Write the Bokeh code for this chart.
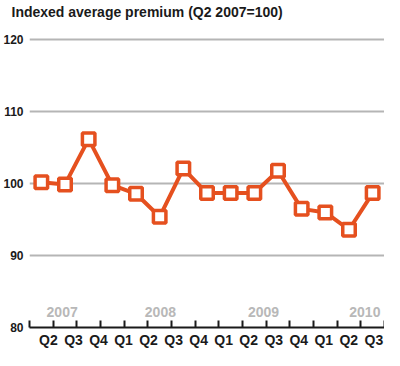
import numpy as np
from bokeh.plotting import figure
from bokeh.models import FixedTicker, LinearAxis, Range1d, ColumnDataSource
from bokeh.core.properties import value
from bokeh.embed import file_html
from bokeh.resources import INLINE

# ---- data ----
premium = [100.2, 99.9, 106.2, 99.8, 98.6, 95.4, 102.1, 98.7, 98.7, 98.7, 101.8, 96.5, 96.0, 93.6, 98.7]
quarter_labels = ["Q2", "Q3", "Q4", "Q1", "Q2", "Q3", "Q4", "Q1", "Q2", "Q3", "Q4", "Q1", "Q2", "Q3"]
years = ["2007", "2008", "2009", "2010"]
y_ticks = [80, 90, 100, 110, 120]

# ---- layout helpers ----
idx = list(range(len(premium)))
edges = [i - 0.5 for i in range(len(premium) + 1)]
label_pos = [float(v) for v in np.linspace(0.3, 14.05, len(quarter_labels))]
year_x = [0.88, 5.03, 9.39, 13.67]
year_y = [82.1] * len(years)

ORANGE = "#e5501f"
GRID = "#b5b5b5"
FONT = "Liberation Sans"

p = figure(width=384, height=350, output_backend="svg", toolbar_location=None,
           x_range=Range1d(-0.5, 14.5), y_range=Range1d(80, 122.7),
           min_border_left=27, min_border_right=0, min_border_top=4, min_border_bottom=0,
           x_axis_location=None, y_axis_location=None)
p.outline_line_color = None
p.background_fill_color = "white"

p.title.text = "Indexed average premium (Q2 2007=100)"
p.title.text_font = FONT
p.title.text_font_size = "14px"
p.title.text_font_style = "bold"
p.title.text_color = "#1a1a1a"
p.title.offset = -18
p.title.standoff = 2

# y axis (labels only)
yax = LinearAxis(ticker=FixedTicker(ticks=y_ticks))
yax.axis_line_color = None
yax.major_tick_line_color = None
yax.minor_tick_line_color = None
yax.major_tick_in = 0
yax.major_tick_out = 0
yax.minor_tick_in = 0
yax.minor_tick_out = 0
yax.axis_label_standoff = 0
yax.major_label_text_font = FONT
yax.major_label_text_font_size = "12px"
yax.major_label_text_font_style = "bold"
yax.major_label_text_color = "#1a1a1a"
yax.major_label_standoff = 6
p.add_layout(yax, "left")

# x axis: line, upward minor ticks at band edges, quarter labels at major ticks
xax = LinearAxis(ticker=FixedTicker(ticks=label_pos, minor_ticks=edges))
xax.axis_line_color = "#1a1a1a"
xax.axis_line_width = 2
xax.major_tick_line_color = None
xax.major_tick_in = 0
xax.major_tick_out = 0
xax.minor_tick_line_color = "#1a1a1a"
xax.minor_tick_line_width = 2
xax.minor_tick_in = 7
xax.minor_tick_out = 0
xax.axis_label_standoff = 0
xax.major_label_overrides = {v: t for v, t in zip(label_pos, quarter_labels)}
xax.major_label_text_font = FONT
xax.major_label_text_font_size = "14px"
xax.major_label_text_font_style = "bold"
xax.major_label_text_color = "#1a1a1a"
xax.major_label_standoff = 4
p.add_layout(xax, "below")

p.xgrid.visible = False
p.ygrid.ticker = FixedTicker(ticks=y_ticks[1:])
p.ygrid.grid_line_color = GRID
p.ygrid.grid_line_width = 2

src = ColumnDataSource(dict(x=idx, y=premium))
p.line("x", "y", source=src, line_color=ORANGE, line_width=4)
p.scatter("x", "y", source=src, marker="square", size=12.5, line_color=ORANGE,
          line_width=3.5, fill_color="white")

ysrc = ColumnDataSource(dict(x=year_x, y=year_y, t=years))
p.text("x", "y", text="t", source=ysrc, text_font=value(FONT), text_font_size="14px",
       text_font_style="bold", text_color="#b8b8b8", text_align="center",
       text_baseline="middle")

open("out.html", "w").write(file_html(p, INLINE))
